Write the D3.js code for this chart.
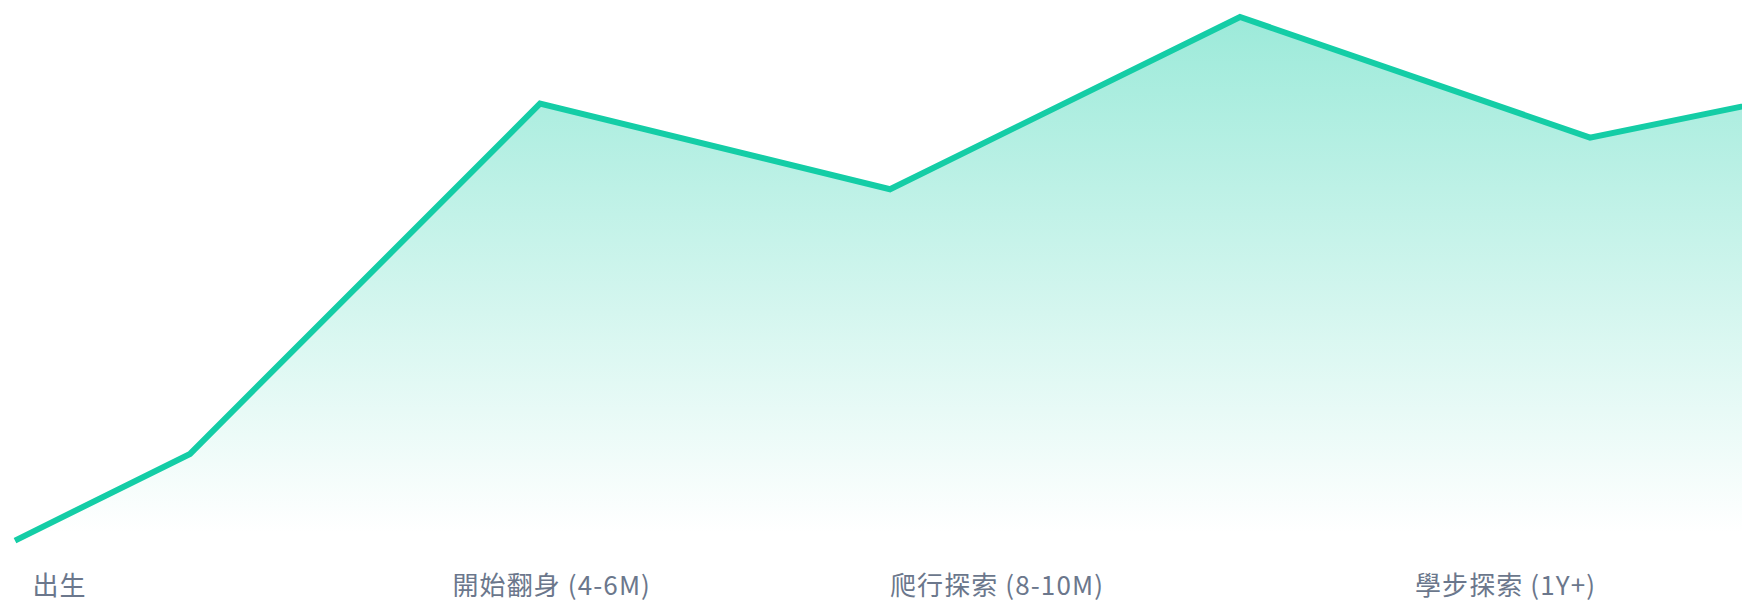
<!DOCTYPE html>
<html>
<head>
<meta charset="utf-8">
<script src="https://cdn.jsdelivr.net/npm/d3@7"></script>
<style>
    html, body { margin: 0; padding: 0; background: #fff; }
    svg { display: block; }
</style>
</head>
<body>
<svg id="chart"></svg>
<script>
// growth stages (x in stage units) and curve level
const stagePos = [0, 0.5, 1.5, 2.5, 3.5, 4.5, 5.5];
const level = [-0.3, 16.3, 83.4, 67, 100, 76.9, 90.6];

// bottom labels and where they start on the stage axis
const labels = ["出生", "開始翻身 (4-6M)", "爬行探索 (8-10M)", "學步探索 (1Y+)"];
const labelAt = [0.05, 1.25, 2.5, 4.0];

const width = 1742, height = 601;
const margin = { top: 17, bottom: 61, left: 15 };
const baseline = 533;

const svg = d3.select("#chart")
    .attr("width", width)
    .attr("height", height);

const x = d3.scaleLinear()
    .domain([0, 1])
    .range([margin.left, margin.left + 350]);

const y = d3.scaleLinear()
    .domain([0, 100])
    .range([height - margin.bottom - 1, margin.top]);

const pts = stagePos.map((s, i) => ({ s: s, v: level[i] }));

const defs = svg.append("defs");
const grad = defs.append("linearGradient")
    .attr("id", "fade")
    .attr("gradientUnits", "userSpaceOnUse")
    .attr("x1", 0).attr("x2", 0)
    .attr("y1", y(100)).attr("y2", baseline);
grad.append("stop").attr("offset", 0).attr("stop-color", "#14cda6").attr("stop-opacity", 0.42);
grad.append("stop").attr("offset", 1).attr("stop-color", "#14cda6").attr("stop-opacity", 0);

defs.append("clipPath").attr("id", "clip")
    .append("rect")
    .attr("x", 0).attr("y", 0)
    .attr("width", width).attr("height", baseline);

const area = d3.area()
    .x(d => x(d.s))
    .y0(baseline)
    .y1(d => y(d.v));

const line = d3.line()
    .x(d => x(d.s))
    .y(d => y(d.v));

svg.append("path")
    .datum(pts)
    .attr("clip-path", "url(#clip)")
    .attr("fill", "url(#fade)")
    .attr("d", area);

svg.append("path")
    .datum(pts)
    .attr("fill", "none")
    .attr("stroke", "#14cda6")
    .attr("stroke-width", 6)
    .attr("d", line);

svg.append("g")
    .selectAll("text")
    .data(labels)
    .join("text")
    .attr("x", (d, i) => x(labelAt[i]))
    .attr("y", 583)
    .attr("dominant-baseline", "central")
    .attr("font-family", "'Noto Sans CJK TC', 'Noto Sans', sans-serif")
    .attr("font-size", 26)
    .attr("letter-spacing", 1.1)
    .attr("fill", "#6b778c")
    .text(d => d);
</script>
</body>
</html>
